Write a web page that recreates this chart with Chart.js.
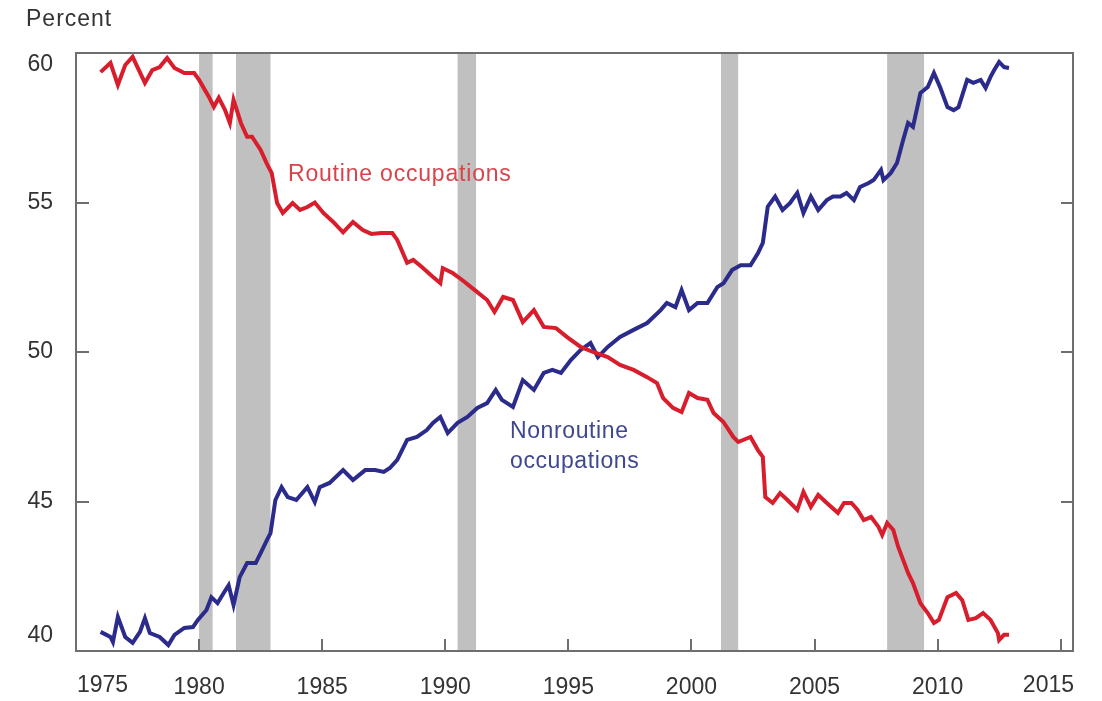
<!DOCTYPE html>
<html>
<head>
<meta charset="utf-8">
<script src="https://cdn.jsdelivr.net/npm/chart.js@4.4.1/dist/chart.umd.min.js"></script>
<style>
  html, body { margin: 0; padding: 0; background: #fff; }
  canvas { display: block; }
</style>
</head>
<body>
<canvas id="chart" width="1102" height="701"></canvas>
<script>
// Share of employment, percent
const routineYears = [1976.0,1976.4,1976.7,1977.0,1977.3,1977.8,1978.1,1978.4,1978.7,1979.0,1979.4,1979.8,1980.0,1980.4,1980.6,1980.8,1981.05,1981.25,1981.4,1981.7,1981.95,1982.15,1982.5,1982.75,1982.95,1983.17,1983.4,1983.8,1984.1,1984.4,1984.7,1985.05,1985.45,1985.85,1986.25,1986.65,1987.0,1987.4,1987.85,1988.05,1988.45,1988.7,1989.05,1989.4,1989.8,1989.9,1990.3,1990.7,1991.2,1991.7,1992.0,1992.35,1992.75,1993.15,1993.6,1994.0,1994.5,1994.95,1995.5,1996.0,1996.6,1997.1,1997.65,1998.2,1998.6,1998.85,1999.25,1999.6,1999.9,2000.25,2000.65,2000.9,2001.3,2001.7,2001.9,2002.4,2002.7,2002.9,2003.0,2003.3,2003.6,2003.9,2004.3,2004.55,2004.85,2005.15,2005.5,2005.95,2006.2,2006.5,2006.75,2007.0,2007.3,2007.6,2007.75,2007.95,2008.2,2008.4,2008.8,2009.0,2009.3,2009.6,2009.85,2010.05,2010.4,2010.75,2011.0,2011.25,2011.55,2011.85,2012.15,2012.45,2012.5,2012.7,2012.9];
const routineValues = [59.36,59.67,58.93,59.6,59.87,59.0,59.43,59.53,59.83,59.5,59.33,59.33,59.1,58.53,58.2,58.5,58.1,57.66,58.43,57.66,57.2,57.2,56.76,56.3,55.98,54.98,54.65,54.98,54.75,54.85,55.0,54.65,54.35,54.0,54.35,54.08,53.95,53.98,53.98,53.75,52.98,53.08,52.84,52.58,52.3,52.8,52.64,52.4,52.07,51.74,51.34,51.84,51.74,51.0,51.4,50.84,50.8,50.5,50.17,50.0,49.83,49.57,49.4,49.16,48.96,48.46,48.13,47.99,48.63,48.46,48.4,47.96,47.66,47.16,46.99,47.16,46.72,46.49,45.15,44.95,45.28,45.05,44.72,45.32,44.82,45.22,44.95,44.62,44.95,44.95,44.72,44.38,44.48,44.15,43.88,44.28,44.05,43.48,42.61,42.27,41.6,41.27,40.94,41.04,41.8,41.94,41.7,41.04,41.1,41.27,41.04,40.6,40.37,40.54,40.54];

const nonroutineYears = [1976.0,1976.4,1976.5,1976.7,1977.0,1977.3,1977.6,1977.8,1978.0,1978.4,1978.75,1979.0,1979.4,1979.75,1979.95,1980.3,1980.5,1980.75,1981.0,1981.2,1981.4,1981.65,1981.95,1982.3,1982.5,1982.75,1982.9,1983.1,1983.35,1983.6,1983.95,1984.4,1984.7,1984.9,1985.3,1985.85,1986.25,1986.75,1987.15,1987.5,1987.75,1988.05,1988.45,1988.85,1989.25,1989.5,1989.8,1990.1,1990.5,1990.9,1991.3,1991.7,1992.05,1992.3,1992.75,1993.15,1993.6,1994.0,1994.35,1994.7,1995.1,1995.5,1995.9,1996.2,1996.6,1997.1,1997.65,1998.2,1998.75,1999.0,1999.35,1999.6,1999.9,2000.25,2000.65,2001.05,2001.3,2001.65,2002.0,2002.4,2002.7,2002.9,2003.1,2003.4,2003.7,2004.0,2004.3,2004.55,2004.85,2005.15,2005.5,2005.75,2006.05,2006.3,2006.6,2006.85,2007.2,2007.4,2007.7,2007.8,2008.1,2008.35,2008.6,2008.8,2009.0,2009.3,2009.6,2009.85,2010.1,2010.4,2010.65,2010.85,2011.2,2011.45,2011.75,2011.95,2012.15,2012.3,2012.5,2012.7,2012.9];
const nonroutineValues = [40.64,40.47,40.3,41.14,40.47,40.27,40.64,41.1,40.6,40.47,40.2,40.54,40.77,40.8,41.04,41.37,41.8,41.6,41.94,42.2,41.54,42.47,42.94,42.94,43.27,43.7,43.94,45.05,45.48,45.15,45.05,45.48,44.98,45.48,45.62,46.05,45.72,46.05,46.05,45.99,46.12,46.39,47.06,47.16,47.39,47.63,47.83,47.29,47.63,47.83,48.13,48.29,48.73,48.4,48.16,49.06,48.73,49.3,49.4,49.3,49.73,50.07,50.3,49.83,50.17,50.5,50.74,50.97,51.4,51.64,51.5,52.07,51.4,51.64,51.64,52.17,52.3,52.74,52.9,52.9,53.3,53.65,54.86,55.2,54.75,54.98,55.32,54.65,55.2,54.75,55.08,55.2,55.2,55.32,55.08,55.52,55.65,55.75,56.09,55.75,55.99,56.32,57.09,57.66,57.53,58.66,58.86,59.33,58.86,58.19,58.09,58.19,59.1,59.0,59.1,58.83,59.2,59.43,59.7,59.53,59.5];

// Recessions (shaded)
const recessionStarts = [1980.0, 1981.5, 1990.5, 2001.2, 2007.95];
const recessionEnds = [1980.55, 1982.9, 1991.25, 2001.9, 2009.45];

// Axis ticks
const xTicks = [1975, 1980, 1985, 1990, 1995, 2000, 2005, 2010, 2015];
const yTicks = [40, 45, 50, 55, 60];

const FONT = '"Liberation Sans", Arial, Helvetica, sans-serif';
const TEXT = '#333333';
const RED = '#d81e2c';
const BLUE = '#2b2b8c';

const decor = {
  id: 'decor',
  beforeDatasetsDraw(chart) {
    const { ctx, chartArea: a, scales: { x } } = chart;
    ctx.save();
    ctx.fillStyle = '#c0c0c0';
    recessionStarts.forEach((s, i) => {
      const x0 = x.getPixelForValue(s), x1 = x.getPixelForValue(recessionEnds[i]);
      ctx.fillRect(x0, a.top, x1 - x0, a.bottom - a.top);
    });
    ctx.restore();
  },
  afterDatasetsDraw(chart) {
    const { ctx, chartArea: a, scales: { x, y } } = chart;
    ctx.save();
    // frame
    ctx.strokeStyle = '#6e6e6e';
    ctx.lineWidth = 2;
    ctx.strokeRect(a.left, a.top, a.right - a.left, a.bottom - a.top);
    // inward tick marks
    ctx.beginPath();
    xTicks.slice(1).forEach(v => {
      const px = Math.round(x.getPixelForValue(v));
      ctx.moveTo(px, a.bottom); ctx.lineTo(px, a.bottom - 12);
    });
    yTicks.slice(1, -1).forEach(v => {
      const py = Math.round(y.getPixelForValue(v));
      ctx.moveTo(a.left, py); ctx.lineTo(a.left + 13, py);
      ctx.moveTo(a.right, py); ctx.lineTo(a.right - 12, py);
    });
    ctx.stroke();

    // edge tick labels kept inside the frame
    ctx.font = '23px ' + FONT;
    ctx.fillStyle = TEXT;
    ctx.textBaseline = 'top';
    ctx.textAlign = 'left';
    ctx.fillText(String(xTicks[0]), a.left + 1, a.bottom + 23);
    ctx.textAlign = 'right';
    ctx.fillText(String(xTicks[xTicks.length - 1]), a.right + 1, a.bottom + 23);
    ctx.textBaseline = 'middle';
    ctx.fillText(String(yTicks[yTicks.length - 1]), a.left - 23, a.top + 12);
    ctx.fillText(String(yTicks[0]), a.left - 23, a.bottom - 15);

    // axis unit
    ctx.textAlign = 'left';
    ctx.letterSpacing = '1px';
    ctx.fillText('Percent', 26, 20);

    // series labels
    ctx.letterSpacing = '0.8px';
    ctx.fillStyle = '#d9434a';
    ctx.fillText('Routine occupations', 288, 175);
    ctx.letterSpacing = '0.6px';
    ctx.fillStyle = '#3f4790';
    ctx.fillText('Nonroutine', 510, 432);
    ctx.fillText('occupations', 510, 462);
    ctx.letterSpacing = '0px';
    ctx.restore();
  }
};

new Chart(document.getElementById('chart'), {
  type: 'line',
  data: {
    datasets: [
      {
        label: 'Routine occupations',
        data: routineYears.map((yr, i) => ({ x: yr, y: routineValues[i] })),
        borderColor: RED,
        borderWidth: 4,
        pointRadius: 0,
        tension: 0
      },
      {
        label: 'Nonroutine occupations',
        data: nonroutineYears.map((yr, i) => ({ x: yr, y: nonroutineValues[i] })),
        borderColor: BLUE,
        borderWidth: 4,
        pointRadius: 0,
        tension: 0
      }
    ]
  },
  options: {
    responsive: false,
    animation: false,
    devicePixelRatio: 1,
    layout: { padding: { top: 53, right: 29, left: 0, bottom: 0 } },
    plugins: { legend: { display: false }, tooltip: { enabled: false } },
    scales: {
      x: {
        type: 'linear',
        min: 1975,
        max: 2015.5,
        afterBuildTicks: s => { s.ticks = xTicks.map(v => ({ value: v })); },
        afterFit: s => { s.height = 50; },
        grid: { display: false, drawTicks: false },
        border: { display: false },
        ticks: {
          autoSkip: false,
          maxRotation: 0,
          padding: 23,
          color: TEXT,
          font: { family: FONT, size: 23 },
          callback: v => (v === xTicks[0] || v === xTicks[xTicks.length - 1]) ? '' : String(v)
        }
      },
      y: {
        min: 40,
        max: 60,
        afterBuildTicks: s => { s.ticks = yTicks.map(v => ({ value: v })); },
        afterFit: s => { s.width = 76; },
        grid: { display: false, drawTicks: false },
        border: { display: false },
        ticks: {
          padding: 23,
          color: TEXT,
          font: { family: FONT, size: 23 },
          callback: v => (v === yTicks[0] || v === yTicks[yTicks.length - 1]) ? '' : String(v)
        }
      }
    }
  },
  plugins: [decor]
});
</script>
</body>
</html>
